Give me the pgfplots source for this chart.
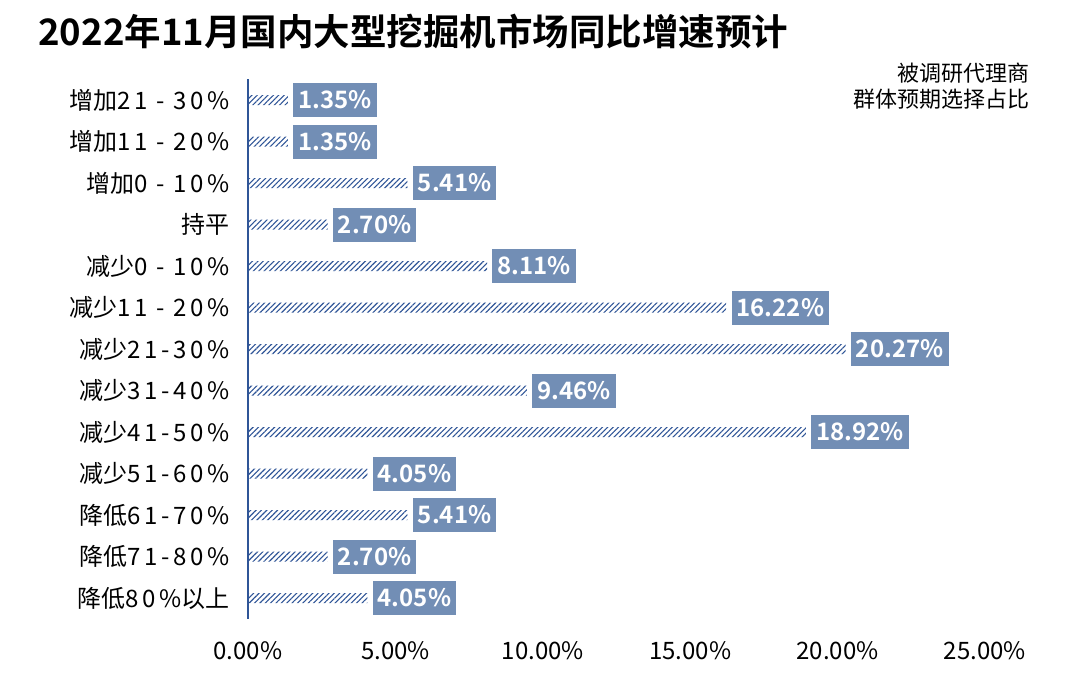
\documentclass[border=0pt]{standalone}
\usepackage{fontspec}
\setmainfont{Noto Sans CJK SC}[BoldFont={Noto Sans CJK SC Bold}]
\newfontfamily\cjk{Noto Sans CJK SC}[BoldFont={Noto Sans CJK SC Bold}]
\newfontfamily\cjksp{Noto Sans CJK SC}[LetterSpace=15]
\usepackage{pgfplots}
\usepackage{pgfplotstable}
\pgfplotsset{compat=1.18}
\usetikzlibrary{patterns.meta}
\definecolor{boxblue}{RGB}{114,142,181}
\definecolor{hatchblue}{RGB}{47,85,151}
\definecolor{axisblue}{RGB}{47,85,151}

\pgfplotstableread{
idx val
0 1.35
1 1.35
2 5.41
3 2.70
4 8.11
5 16.22
6 20.27
7 9.46
8 18.92
9 4.05
10 5.41
11 2.70
12 4.05
}\data

\begin{document}
\begin{tikzpicture}
\useasboundingbox (0pt,0pt) rectangle (540pt,345.5pt);
\node[anchor=west, inner sep=0pt, font=\cjk\bfseries\fontsize{18.25}{20}\selectfont] at (19pt,329.5pt) {2022年11月国内大型挖掘机市场同比增速预计};
\node[anchor=north east, align=right, inner sep=0pt, font=\cjk\fontsize{11}{13}\selectfont] at (515pt,314pt) {被调研代理商\\群体预期选择占比};
\begin{axis}[
  at={(124pt,36.1pt)}, anchor=south west,
  scale only axis, width=368.5pt, height=269.75pt,
  xbar, bar width=5pt,
  xmin=0, xmax=25, ymin=-0.5, ymax=12.5, y dir=reverse,
  axis lines*=left,
  x axis line style={draw=none},
  y axis line style={draw=axisblue, line width=0.7pt},
  major tick length=0pt,
  xtick={0,5,10,15,20,25},
  xticklabel={\pgfmathprintnumber[fixed,fixed zerofill,precision=2]{\tick}\%},
  xticklabel style={font=\cjk\fontsize{12}{14}\selectfont, /pgf/number format/assume math mode=true, yshift=-8pt},
  ytick={0,...,12},
  yticklabels={
    {{\cjk 增加}{\cjksp 21 - 30\%}},
    {{\cjk 增加}{\cjksp 11 - 20\%}},
    {{\cjk 增加}{\cjksp 0 - 10\%}},
    {\cjk 持平},
    {{\cjk 减少}{\cjksp 0 - 10\%}},
    {{\cjk 减少}{\cjksp 11 - 20\%}},
    {{\cjk 减少}{\cjksp 21-30\%}},
    {{\cjk 减少}{\cjksp 31-40\%}},
    {{\cjk 减少}{\cjksp 41-50\%}},
    {{\cjk 减少}{\cjksp 51-60\%}},
    {{\cjk 降低}{\cjksp 61-70\%}},
    {{\cjk 降低}{\cjksp 71-80\%}},
    {{\cjk 降低}{\cjksp 80\%}{\cjk 以上}}
  },
  yticklabel style={font=\cjk\fontsize{12}{14}\selectfont, anchor=east, inner xsep=0pt, xshift=-9pt},
  nodes near coords={\pgfmathprintnumber[fixed,fixed zerofill,precision=2]{\pgfplotspointmeta}\%},
  nodes near coords style={anchor=west, fill=boxblue, text=white,
    font=\cjk\bfseries\fontsize{12}{14}\selectfont, inner xsep=2.5pt, inner ysep=0pt,
    minimum height=17pt, xshift=2.5pt, /pgf/number format/assume math mode=true},
]
\addplot[draw=none, pattern={Lines[angle=45,distance=1.9pt,line width=0.55pt]}, pattern color=hatchblue]
  table[x=val,y=idx]{\data};
\end{axis}
\end{tikzpicture}
\end{document}
